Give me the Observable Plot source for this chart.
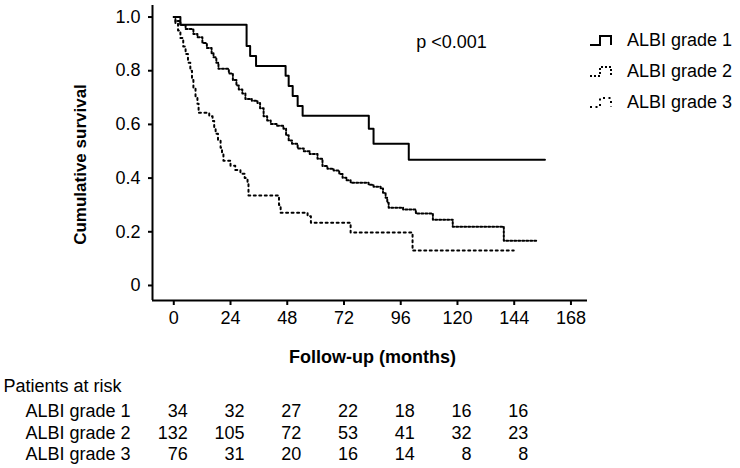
<!DOCTYPE html>
<html>
<head>
<meta charset="utf-8">
<script src="https://cdn.jsdelivr.net/npm/d3@7"></script>
<script src="https://cdn.jsdelivr.net/npm/@observablehq/plot@0.6"></script>
<style>
  html, body { margin: 0; padding: 0; background: #fff; }
  #wrap { position: relative; width: 740px; height: 468px; overflow: hidden; background: #fff; }
  #legend { position: absolute; left: 580px; top: 20px; }
</style>
</head>
<body>
<div id="wrap"></div>
<script>
// ---- Data ----
const seriesNames = ["ALBI grade 1", "ALBI grade 2", "ALBI grade 3"];

// Kaplan-Meier step points: [month, cumulative survival]
const grade1 = [
  [0, 1.0], [2.8, 0.971], [30.8, 0.892], [32.3, 0.855], [34.8, 0.818],
  [47.3, 0.781], [48.6, 0.743], [50.3, 0.706], [52.4, 0.669], [54.5, 0.632],
  [82.5, 0.584], [84.5, 0.528], [99.4, 0.468], [157, 0.468]
];
const grade2 = [
  [0, 1.0], [0.7, 0.985], [2.8, 0.970], [5, 0.955], [8.3, 0.937], [10, 0.925],
  [12.1, 0.903], [14, 0.885], [16, 0.865], [16.8, 0.850], [18, 0.830], [18.9, 0.807],
  [23.3, 0.790], [25, 0.765], [26.5, 0.745], [27.5, 0.730], [29, 0.715], [30.3, 0.695],
  [33, 0.688], [35.4, 0.680], [36.5, 0.660], [38, 0.630], [39.5, 0.615], [41, 0.602],
  [43.5, 0.595], [46.4, 0.584], [47.5, 0.560], [48.6, 0.540], [50, 0.528], [52.4, 0.510],
  [55, 0.500], [57.5, 0.490], [60.8, 0.472], [62.9, 0.445], [65, 0.435], [67.6, 0.428],
  [70, 0.415], [71.4, 0.401], [73, 0.392], [74.8, 0.383], [82.4, 0.375], [84.5, 0.368],
  [87.5, 0.361], [88.5, 0.345], [89.6, 0.327], [90.3, 0.308], [90.9, 0.290], [97, 0.283],
  [102.4, 0.268], [109.6, 0.245], [118, 0.219], [139.6, 0.167], [154, 0.167]
];
const grade3 = [
  [0, 1.0], [0.7, 0.975], [1.8, 0.950], [2.8, 0.922], [4, 0.890], [5, 0.862],
  [6, 0.830], [7, 0.800], [7.7, 0.765], [8.3, 0.736], [9.2, 0.705], [10, 0.677],
  [10.5, 0.643], [15, 0.630], [16.4, 0.613], [17.1, 0.590], [17.7, 0.565], [18.7, 0.540],
  [19.8, 0.513], [20.4, 0.490], [21, 0.465], [24, 0.446], [26, 0.430], [28.2, 0.416],
  [30, 0.400], [31.2, 0.383], [31.6, 0.335], [44.5, 0.300], [45.2, 0.271], [56.6, 0.258],
  [58, 0.234], [74.8, 0.197], [101, 0.130], [143.8, 0.130]
];

const xTicks = [0, 24, 48, 72, 96, 120, 144, 168];
const yTicks = [0, 0.2, 0.4, 0.6, 0.8, 1.0];
const xDomain = [-9, 175];
const yDomain = [-0.056, 1.043];

const riskTimes = [0, 24, 48, 72, 96, 120, 144];
const risk1 = [34, 32, 27, 22, 18, 16, 16];
const risk2 = [132, 105, 72, 53, 41, 32, 23];
const risk3 = [76, 31, 20, 16, 14, 8, 8];

const pText = "p <0.001";
const xLabel = "Follow-up (months)";
const yLabel = "Cumulative survival";
const riskTitle = "Patients at risk";

// ---- Build ----
const toRows = arr => arr.map(([t, s]) => ({t, s}));
const riskRows = (vals) => riskTimes.map((t, i) => ({t, n: vals[i]}));
const FONT = "'Liberation Sans', Arial, Helvetica, sans-serif";

const rowDy = [111, 133, 154];
const dashes = [null, "2,2", "2,3.5"];

const chart = Plot.plot({
  width: 740,
  height: 468,
  marginLeft: 152,
  marginRight: 153,
  marginTop: 5,
  marginBottom: 168,
  x: {domain: xDomain},
  y: {domain: yDomain},
  style: {fontFamily: FONT, fontSize: "18px", color: "black", background: "white"},
  marks: [
    Plot.axisY(yTicks, {tickSize: 4, tickPadding: 8, strokeWidth: 2, label: null,
      tickFormat: d => d === 0 ? "0" : d.toFixed(1), fontSize: 18}),
    Plot.axisX(xTicks, {tickSize: 5, tickPadding: 6, strokeWidth: 2, label: null, fontSize: 18}),
    Plot.ruleX([xDomain[0]], {stroke: "black", strokeWidth: 2}),
    Plot.ruleY([yDomain[0]], {stroke: "black", strokeWidth: 2}),
    Plot.line(toRows(grade3), {x: "t", y: "s", curve: "step-after", stroke: "black", strokeWidth: 2, strokeDasharray: dashes[2]}),
    Plot.line(toRows(grade2), {x: "t", y: "s", curve: "step-after", stroke: "black", strokeWidth: 2, strokeDasharray: dashes[1]}),
    Plot.line(toRows(grade1), {x: "t", y: "s", curve: "step-after", stroke: "black", strokeWidth: 2}),
    // p-value
    Plot.text([pText], {frameAnchor: "top-right", text: d => d, textAnchor: "middle", lineAnchor: "middle", dx: -136, dy: 37, fontSize: 18, fill: "black"}),
    // axis labels
    Plot.text([xLabel], {frameAnchor: "bottom", text: d => d, textAnchor: "middle", lineAnchor: "middle", dx: 2.5, dy: 57, fontWeight: "bold", fontSize: 18, fill: "black"}),
    Plot.text([yLabel], {frameAnchor: "left", text: d => d, rotate: -90, textAnchor: "middle", lineAnchor: "middle", dx: -72, dy: 11.5, fontWeight: "bold", fontSize: 17, fill: "black"}),
    // risk table
    Plot.text([riskTitle], {frameAnchor: "bottom-left", text: d => d, textAnchor: "start", lineAnchor: "middle", dx: -149, dy: 86, fontSize: 18, fill: "black"}),
    ...seriesNames.map((name, i) =>
      Plot.text([name], {frameAnchor: "bottom-left", text: d => d, textAnchor: "start", lineAnchor: "middle", dx: -127, dy: rowDy[i], fontSize: 18, fill: "black"})),
    ...[risk1, risk2, risk3].map((vals, i) =>
      Plot.text(riskRows(vals), {x: "t", frameAnchor: "bottom", text: "n", textAnchor: "end", lineAnchor: "middle", dx: 14, dy: rowDy[i], fontSize: 18, fill: "black"}))
  ]
});

const wrap = document.getElementById("wrap");
wrap.appendChild(chart);

// ---- Legend (HTML/SVG overlay) ----
const ns = "http://www.w3.org/2000/svg";
const leg = document.createElementNS(ns, "svg");
leg.setAttribute("id", "legend");
leg.setAttribute("width", 160);
leg.setAttribute("height", 100);
leg.style.fontFamily = FONT;
leg.style.fontSize = "18px";
seriesNames.forEach((name, i) => {
  const cy = 20 + i * 31;
  const p = document.createElementNS(ns, "path");
  p.setAttribute("d", `M10,${cy + 5}H20V${cy - 4}H31V${cy + 5}`);
  p.setAttribute("fill", "none");
  p.setAttribute("stroke", "black");
  p.setAttribute("stroke-width", 2);
  if (dashes[i]) p.setAttribute("stroke-dasharray", dashes[i]);
  leg.appendChild(p);
  const t = document.createElementNS(ns, "text");
  t.setAttribute("x", 47);
  t.setAttribute("y", cy);
  t.setAttribute("dominant-baseline", "central");
  t.setAttribute("fill", "black");
  t.textContent = name;
  leg.appendChild(t);
});
wrap.appendChild(leg);
</script>
</body>
</html>
